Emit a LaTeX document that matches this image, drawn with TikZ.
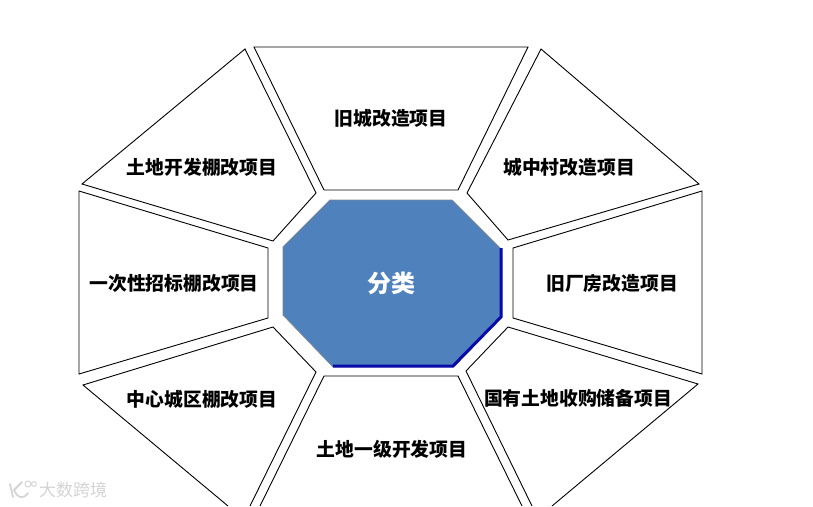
\documentclass[tikz,border=0pt]{standalone}
\usepackage{fontspec}
\setmainfont{Noto Sans CJK SC}
\newfontfamily\cjk{Noto Sans CJK SC}
\definecolor{CoreBlue}{HTML}{4F81BD}
\definecolor{EdgeBlue}{HTML}{0A0AA8}
\definecolor{EdgeGray}{HTML}{7B8794}
\definecolor{Wmark}{HTML}{D4D4D4}

\begin{document}
\begin{tikzpicture}[
    x=1pt,y=-1pt,
    seg/.style={draw=black,line width=0.9pt,line join=miter,fill=white},
    lbl/.style={font=\cjk\bfseries\fontsize{18.8}{20}\selectfont,text=black,inner sep=0pt},
    core/.style={font=\cjk\bfseries\fontsize{24}{26}\selectfont,text=white,inner sep=0pt},
    wlbl/.style={font=\cjk\fontsize{17}{18}\selectfont,text=Wmark,inner sep=0pt}
  ]
    \useasboundingbox (0,0) rectangle (813,506);
    % outer ring
    \draw[seg] (254,47) -- (528,47) -- (458,190) -- (324,190) -- cycle;
    \draw[seg] (541,49) -- (699,184) -- (508,240) -- (467,193) -- cycle;
    \draw[seg] (702,191) -- (702,374) -- (513,318) -- (513,248) -- cycle;
    \draw[seg] (552,506) -- (698,384) -- (508,327) -- (466,371) -- (532,506);
    \draw[seg] (260,506) -- (324,376) -- (458,376) -- (522,506);
    \draw[seg] (228,506) -- (83,385) -- (273,327) -- (316,372) -- (250,506);
    \draw[seg] (79,191) -- (268,248) -- (268,318) -- (79,374) -- cycle;
    \draw[seg] (245,49) -- (82,184) -- (273,241) -- (316,193) -- cycle;
    % centre
    \fill[CoreBlue] (330,200) -- (452,200) -- (502,250) -- (502,317) -- (454,367)
      -- (333,367) -- (283,315) -- (283,247) -- cycle;
    \draw[EdgeGray,line width=0.8pt] (333,367) -- (283,315) -- (283,247) -- (330,200) -- (452,200) -- (502,250);
    \draw[EdgeBlue,line width=3pt] (501,248) -- (501,317) -- (453,366) -- (333,366);
    % labels
    \node[core] (fenlei) at (391,283) {分类};
    \node[lbl] (jiucheng) at (391,118) {旧城改造项目};
    \node[lbl] (chengzhong) at (569,167) {城中村改造项目};
    \node[lbl] (jiuchang) at (612,283) {旧厂房改造项目};
    \node[lbl] (guoyou) at (578,398) {国有土地收购储备项目};
    \node[lbl] (yiji) at (392,449) {土地一级开发项目};
    \node[lbl] (zhongxin) at (202,399) {中心城区棚改项目};
    \node[lbl] (yici) at (174,283) {一次性招标棚改项目};
    \node[lbl] (kaifa) at (202,167) {土地开发棚改项目};
    % watermark
    \node[wlbl] (shuiyin) at (73,490) {大数跨境};
    \draw[Wmark,line width=1.8pt,line cap=round] (10,484) -- (13,497) (22,482) -- (14,490) .. controls (18,499) and (24,499) .. (28,493);
    \draw[Wmark,line width=1pt] (28,484) circle (3) (34,484) circle (2.4);
  \end{tikzpicture}
\end{document}
